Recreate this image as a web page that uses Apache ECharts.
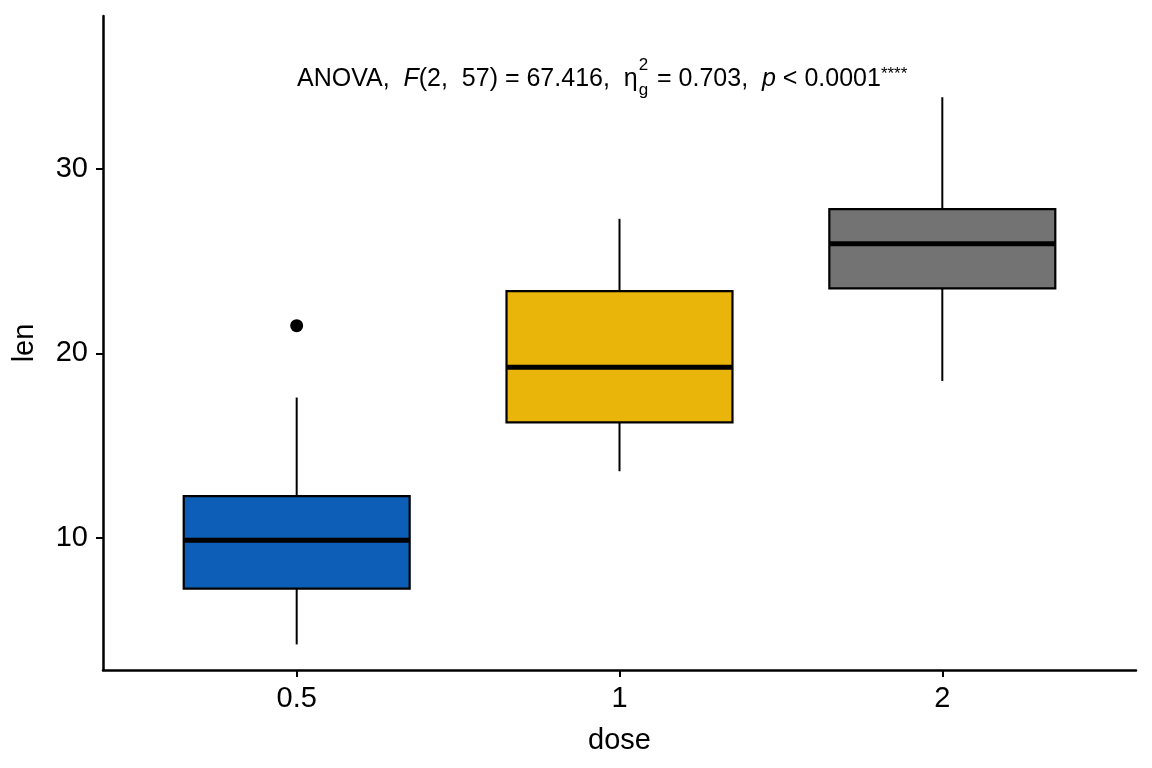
<!DOCTYPE html>
<html>
<head>
<meta charset="utf-8">
<title>len by dose</title>
<script src="https://cdn.jsdelivr.net/npm/echarts@6/dist/echarts.min.js"></script>
<style>
  html, body { margin: 0; padding: 0; background: #fff; }
  #chart { width: 1152px; height: 768px; }
</style>
</head>
<body>
<div id="chart"></div>
<script type="text/javascript">
	// ToothGrowth: len by dose
	var doses = ['0.5', '1', '2'];
	var lowerWhisker = [4.2, 13.6, 18.5];
	var q1 = [7.225, 16.25, 23.525];
	var median = [9.85, 19.25, 25.95];
	var q3 = [12.25, 23.375, 27.825];
	var upperWhisker = [17.6, 27.3, 33.9];
	var outliers = [[0, 21.5]];
	var boxColors = ['#0C5EB6', '#E9B50B', '#737373'];
	var yTicks = [10, 20, 30];

	var FONT = 'Liberation Sans, Arial, sans-serif';

	var boxData = doses.map(function (d, i) {
		return [i, lowerWhisker[i], q1[i], median[i], q3[i], upperWhisker[i]];
	});

	function renderBox(params, api) {
		var x = api.value(0);
		var half = 0.35;
		var pLow = api.coord([x, api.value(1)]);
		var pQ1 = api.coord([x, api.value(2)]);
		var pMed = api.coord([x, api.value(3)]);
		var pQ3 = api.coord([x, api.value(4)]);
		var pHigh = api.coord([x, api.value(5)]);
		var left = api.coord([x - half, api.value(3)])[0];
		var right = api.coord([x + half, api.value(3)])[0];
		var line = { stroke: '#000', lineWidth: 2 };
		return {
			type: 'group',
			children: [
				{ type: 'line', shape: { x1: pLow[0], y1: pLow[1], x2: pQ1[0], y2: pQ1[1] }, style: line },
				{ type: 'line', shape: { x1: pQ3[0], y1: pQ3[1], x2: pHigh[0], y2: pHigh[1] }, style: line },
				{
					type: 'rect',
					shape: { x: left, y: pQ3[1], width: right - left, height: pQ1[1] - pQ3[1] },
					style: { fill: boxColors[params.dataIndex], stroke: '#000', lineWidth: 2.2 }
				},
				{ type: 'line', shape: { x1: left, y1: pMed[1], x2: right, y2: pMed[1] }, style: { stroke: '#000', lineWidth: 5 } }
			]
		};
	}

	// annotation laid out piece by piece (italic letters, sub/superscripts)
	var ctx = document.createElement('canvas').getContext('2d');
	function w(text, size, italic) {
		ctx.font = (italic ? 'italic ' : '') + size + 'px ' + FONT;
		return ctx.measureText(text).width;
	}
	var big = 25, small = 17;
	var pieces = [
		{ t: 'ANOVA,  ', s: big, y: 79 },
		{ t: 'F', s: big, y: 79, it: true },
		{ t: '(2,  57) = 67.416,  \u03b7', s: big, y: 79 },
		{ stack: true },
		{ t: ' = 0.703,  ', s: big, y: 79 },
		{ t: 'p', s: big, y: 79, it: true },
		{ t: ' < 0.0001', s: big, y: 79 },
		{ t: '****', s: small, y: 74 }
	];
	var annot = [];
	var cx = 297;
	pieces.forEach(function (p) {
		if (p.stack) {
			annot.push({ type: 'text', x: cx + 1, y: 65, style: { text: '2', font: small + 'px ' + FONT, fill: '#000', verticalAlign: 'middle' } });
			annot.push({ type: 'text', x: cx + 1, y: 90, style: { text: 'g', font: small + 'px ' + FONT, fill: '#000', verticalAlign: 'middle' } });
			cx += Math.max(w('2', small), w('g', small)) + 3;
			return;
		}
		annot.push({
			type: 'text', x: cx, y: p.y,
			style: { text: p.t, font: (p.it ? 'italic ' : '') + p.s + 'px ' + FONT, fill: '#000', verticalAlign: 'middle' }
		});
		cx += w(p.t, p.s, p.it);
	});

	var option = {
		animation: false,
		backgroundColor: '#fff',
		grid: { left: 103, right: 16, top: 16, bottom: 98, containLabel: false },
		xAxis: {
			type: 'value',
			min: -0.6,
			max: 2.6,
			name: 'dose',
			nameLocation: 'middle',
			nameGap: 56,
			nameTextStyle: { fontFamily: FONT, fontSize: 29, color: '#000' },
			axisLine: { onZero: false, lineStyle: { color: '#000', width: 2.5 } },
			axisTick: { show: true, customValues: [0, 1, 2], length: 7, lineStyle: { color: '#000', width: 2 } },
			axisLabel: {
				customValues: [0, 1, 2],
				formatter: function (v) { return doses[Math.round(v)]; },
				fontFamily: FONT, fontSize: 29, color: '#000', margin: 14
			},
			splitLine: { show: false }
		},
		yAxis: {
			type: 'value',
			min: 2.81,
			max: 38.31,
			name: 'len',
			nameLocation: 'middle',
			nameGap: 64,
			nameTextStyle: { fontFamily: FONT, fontSize: 29, color: '#000' },
			axisLine: { show: true, onZero: false, lineStyle: { color: '#000', width: 2.5 } },
			axisTick: { show: true, customValues: yTicks, length: 7, lineStyle: { color: '#000', width: 2 } },
			axisLabel: { customValues: yTicks, fontFamily: FONT, fontSize: 29, color: '#000', margin: 15 },
			splitLine: { show: false }
		},
		series: [
			{
				type: 'custom',
				renderItem: renderBox,
				encode: { x: 0, y: [1, 2, 3, 4, 5] },
				data: boxData,
				z: 2
			},
			{
				type: 'scatter',
				data: outliers,
				symbolSize: 13,
				itemStyle: { color: '#000', opacity: 1 },
				z: 3
			}
		],
		graphic: annot
	};

	var myChart = echarts.init(document.getElementById('chart'));
	myChart.setOption(option);
</script>
</body>
</html>
